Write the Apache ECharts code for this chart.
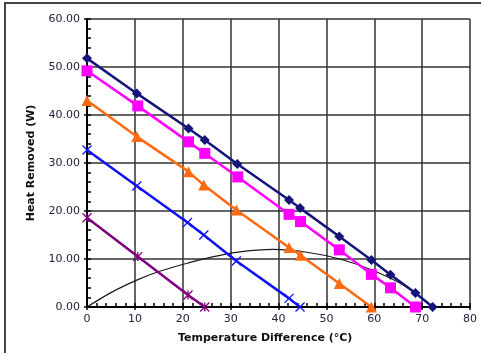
<!DOCTYPE html>
<html><head><meta charset="utf-8">
<script src="https://cdn.jsdelivr.net/npm/echarts@6/dist/echarts.min.js"></script>
<style>html,body{margin:0;padding:0;background:#fff}#c{width:481px;height:353px}</style>
</head><body><div id="c"></div>
<script>
const xTicks = [0,10,20,30,40,50,60,70,80];
const yTicks = [0,10,20,30,40,50,60];
const navyData = [[0,51.8],[10.4,44.5],[21.2,37.2],[24.6,34.8],[31.4,29.8],[42.2,22.3],[44.5,20.6],[52.7,14.7],[59.4,9.8],[63.4,6.7],[68.6,2.9],[72.2,0]];
const magentaData = [[0,49.2],[10.6,41.9],[21.2,34.4],[24.6,32.0],[31.5,27.1],[42.2,19.3],[44.6,17.8],[52.7,11.9],[59.4,6.8],[63.4,4.0],[68.6,0]];
const orangeData = [[0,43.0],[10.4,35.5],[21.2,28.2],[24.4,25.4],[31.2,20.2],[42.2,12.4],[44.6,10.8],[52.7,4.9],[59.4,0]];
const blueData = [[0,32.7],[10.4,25.2],[21.0,17.6],[24.4,15.0],[31.2,9.6],[42.2,1.8],[44.5,0]];
const purpleData = [[0,18.6],[10.6,10.5],[21.1,2.5],[24.6,0]];
const curveData = [[0,0],[5,3.0],[10.4,5.6],[15,7.4],[21.2,9.2],[26,10.4],[31.2,11.4],[38.9,12.0],[45.9,11.4],[52.8,10.0],[59.8,7.6],[66.7,4.2],[72.2,0]];

const chart = echarts.init(document.getElementById('c'));
const tickFont = {fontFamily:'DejaVu Sans', fontSize:11, color:'#22223a'};
const X_PATH = 'path://M0,0 L10,10 M10,0 L0,10';
const STAR_PATH = 'path://M0,0 L10,10 M10,0 L0,10 M5,0 L5,10';
function lineSeries(name, data, color, symbol, size, extra){
  return Object.assign({
    name, type:'line', data, xAxisIndex:0, yAxisIndex:0,
    symbol, symbolSize:size, showSymbol:true,
    lineStyle:{color, width:2.5},
    itemStyle:{color, borderColor:color, borderWidth:0},
    animation:false, z:3
  }, extra||{});
}
chart.setOption({
  animation:false,
  graphic:[
    {type:'line', shape:{x1:5,y1:2,x2:5,y2:353}, style:{stroke:'#444', lineWidth:2}},
    {type:'line', shape:{x1:5,y1:3,x2:481,y2:3}, style:{stroke:'#444', lineWidth:2}},
    {type:'text', left:278-100, top:333, style:{text:'Temperature Difference (°C)', font:'bold 11px "DejaVu Sans"', fill:'#111', width:200, align:'center'}},
  ],
  grid:{left:87, right:11, top:19, bottom:46},
  xAxis:[
    {type:'value', min:0, max:80, interval:10,
     axisLine:{show:true, onZero:false, lineStyle:{color:'#000', width:2}},
     axisTick:{show:true, length:3, lineStyle:{color:'#000', width:1.5}},
     axisLabel:Object.assign({margin:7, formatter:v=>xTicks.includes(v)?String(v):''}, tickFont),
     splitLine:{show:true, lineStyle:{color:'#333', width:1.5}}},
    {type:'value', min:0, max:80, interval:2, position:'bottom',
     axisLine:{show:false}, axisLabel:{show:false}, splitLine:{show:false},
     axisTick:{show:true, inside:true, length:4, lineStyle:{color:'#000', width:1.5}}}
  ],
  yAxis:[
    {type:'value', min:0, max:60, interval:10,
     axisLine:{show:true, onZero:false, lineStyle:{color:'#000', width:2}},
     axisTick:{show:true, length:3, lineStyle:{color:'#000', width:1.5}},
     axisLabel:Object.assign({margin:7, formatter:v=>yTicks.includes(v)?v.toFixed(2):''}, tickFont),
     splitLine:{show:true, lineStyle:{color:'#333', width:1.5}},
     name:'Heat Removed (W)', nameLocation:'middle', nameGap:50,
     nameTextStyle:{fontFamily:'DejaVu Sans', fontSize:11, fontWeight:'bold', color:'#111'}},
    {type:'value', min:0, max:60, interval:2, position:'left',
     axisLine:{show:false}, axisLabel:{show:false}, splitLine:{show:false},
     axisTick:{show:true, inside:true, length:4, lineStyle:{color:'#000', width:1.5}}}
  ],
  series:[
    {name:'curve', type:'line', data:curveData, smooth:0.3, symbol:'none',
     lineStyle:{color:'#1a1a1a', width:1.2}, z:2, animation:false},
    lineSeries('navy', navyData, '#14147a', 'diamond', 10),
    lineSeries('magenta', magentaData, '#ff00ff', 'rect', 11),
    lineSeries('orange', orangeData, '#ff6a10', 'triangle', 11),
    lineSeries('blue', blueData, '#1010ff', X_PATH, 9, {itemStyle:{color:'#1010ff', borderColor:'#1010ff', borderWidth:1.3}}),
    lineSeries('purple', purpleData, '#800080', STAR_PATH, 9, {itemStyle:{color:'#800080', borderColor:'#800080', borderWidth:1.3}})
  ]
});
</script></body></html>
